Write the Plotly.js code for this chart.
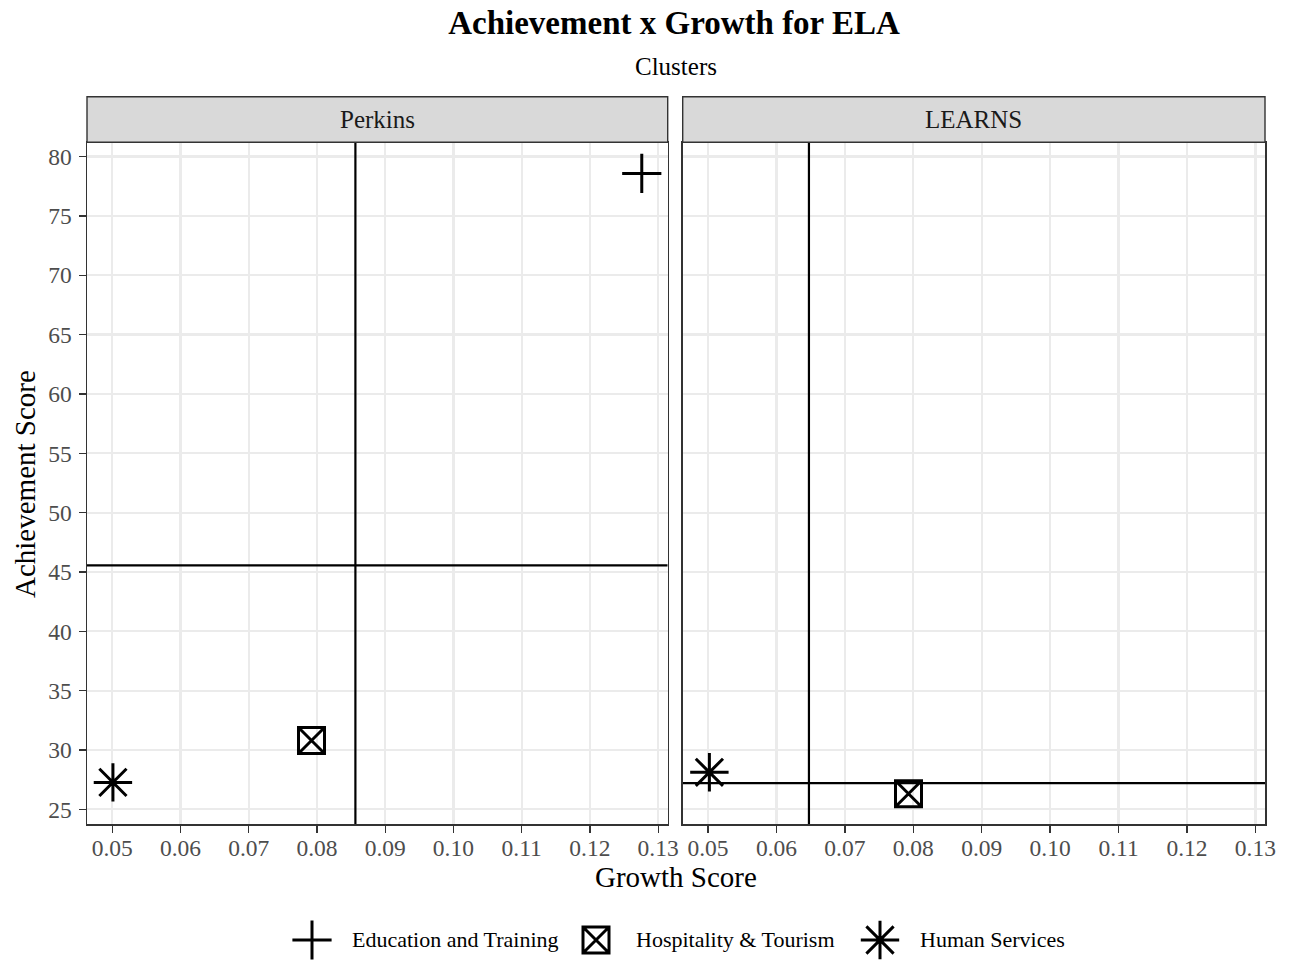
<!DOCTYPE html>
<html><head><meta charset="utf-8">
<script src="https://cdn.plot.ly/plotly-3.0.1.min.js"></script>
<style>body{margin:0;background:#fff}#chart{width:1292px;height:963px}</style>
</head><body><div id="chart"></div>
<script>
// ---- data ----
const categories = ['Education and Training', 'Hospitality & Tourism', 'Human Services'];
const facets = ['Perkins', 'LEARNS'];
const perkinsGrowth = [0.1276, 0.0792, 0.0501];
const perkinsAchievement = [78.58, 30.80, 27.27];
const learnsGrowth = [null, 0.0793, 0.0502];
const learnsAchievement = [null, 26.31, 28.12];
const xTickVals = [0.05, 0.06, 0.07, 0.08, 0.09, 0.10, 0.11, 0.12, 0.13];
const yTickVals = [25, 30, 35, 40, 45, 50, 55, 60, 65, 70, 75, 80];

// ---- styling ----
const W = 1292, H = 963;
const symbols = ['cross-thin-open', 'square-x-open', 'asterisk-open'];
const sizes = [28, 26, 32];
const serif = 'Liberation Serif, Times New Roman, serif';
const px = v => v / W, py = v => 1 - v / H;

const mean = a => { const v = a.filter(d => d !== null); return v.reduce((s, d) => s + d, 0) / v.length; };

const facetData = [
  {g: perkinsGrowth, a: perkinsAchievement, xa: 'x', ya: 'y'},
  {g: learnsGrowth, a: learnsAchievement, xa: 'x2', ya: 'y2'}
];

const xDomains = [[px(87), px(667.7)], [px(682.7), px(1265)]];
const yDomain = [py(824.3), py(142.3)];
const tickfont = {family: serif, size: 23.5, color: '#4D4D4D'};
const xRange = [0.0463, 0.1314];
const yRange = [23.74, 81.2];

const markerStyle = i => ({symbol: symbols[i], size: sizes[i], color: '#000', line: {color: '#000', width: 3}});

const traces = [];
// mean reference lines (drawn as traces so they sit under the markers)
facetData.forEach(f => {
  const mx = mean(f.g), my = mean(f.a);
  traces.push({type: 'scatter', mode: 'lines', x: [mx, mx], y: yRange, xaxis: f.xa, yaxis: f.ya,
    line: {color: '#000', width: 2.2}, hoverinfo: 'skip', showlegend: false});
  traces.push({type: 'scatter', mode: 'lines', x: xRange, y: [my, my], xaxis: f.xa, yaxis: f.ya,
    line: {color: '#000', width: 2.2}, hoverinfo: 'skip', showlegend: false});
});
facetData.forEach(f => {
  categories.forEach((c, i) => {
    if (f.g[i] === null) return;
    traces.push({
      type: 'scatter', mode: 'markers', name: c,
      x: [f.g[i]], y: [f.a[i]], xaxis: f.xa, yaxis: f.ya,
      marker: markerStyle(i), showlegend: false, cliponaxis: false
    });
  });
});
// custom legend keys (one per category, placed by category index)
categories.forEach((c, i) => {
  traces.push({
    type: 'scatter', mode: 'markers', name: c, x: [i], y: [0],
    xaxis: 'x3', yaxis: 'y3', hoverinfo: 'skip', showlegend: false, cliponaxis: false,
    marker: markerStyle(i)
  });
});

function xAxis(dom, anchor) {
  return {domain: dom, anchor: anchor, range: xRange, tickvals: xTickVals,
    ticktext: xTickVals.map(v => v.toFixed(2)), showgrid: true, gridcolor: '#EBEBEB', gridwidth: 2.2,
    ticks: 'outside', ticklen: 7, tickwidth: 1.3, tickcolor: '#333333', showline: true, mirror: true,
    linecolor: '#333333', linewidth: 1.5, zeroline: false, tickfont: tickfont, ticklabelstandoff: -5, fixedrange: true};
}
function yAxis(anchor, labels) {
  return {domain: yDomain, anchor: anchor, range: yRange, tickvals: yTickVals,
    showgrid: true, gridcolor: '#EBEBEB', gridwidth: 2.2,
    ticks: labels ? 'outside' : '', ticklen: 7, tickwidth: 1.3, tickcolor: '#333333', showline: true, mirror: true,
    linecolor: '#333333', linewidth: 1.5, zeroline: false, tickfont: tickfont, showticklabels: labels,
    ticklabelstandoff: 2, fixedrange: true};
}

const shapes = [];
const annotations = [];
facets.forEach((name, k) => {
  shapes.push({type: 'rect', xref: 'paper', yref: 'paper', x0: xDomains[k][0], x1: xDomains[k][1],
    y0: py(142.3), y1: py(96.7), fillcolor: '#D9D9D9', line: {color: '#333333', width: 1.4}});
  annotations.push({text: name, xref: 'paper', yref: 'paper', x: (xDomains[k][0] + xDomains[k][1]) / 2,
    y: py(119.5), xanchor: 'center', yanchor: 'middle', showarrow: false,
    font: {family: serif, size: 25, color: '#1A1A1A'}});
});

annotations.push({text: 'Clusters', xref: 'paper', yref: 'paper', x: px(676), y: py(66), xanchor: 'center',
  yanchor: 'middle', showarrow: false, font: {family: serif, size: 25, color: '#000'}});
annotations.push({text: 'Growth Score', xref: 'paper', yref: 'paper', x: px(676), y: py(877), xanchor: 'center',
  yanchor: 'middle', showarrow: false, font: {family: serif, size: 29, color: '#000'}});
annotations.push({text: 'Achievement Score', xref: 'paper', yref: 'paper', x: px(25), y: py(484), xanchor: 'center',
  yanchor: 'middle', textangle: -90, showarrow: false, font: {family: serif, size: 29, color: '#000'}});
categories.forEach((c, i) => {
  annotations.push({text: c, xref: 'x3', yref: 'y3', x: i, y: 0, xanchor: 'left', yanchor: 'middle',
    xshift: 38, showarrow: false, font: {family: serif, size: 22, color: '#000'}});
});

const layout = {
  width: W, height: H, margin: {l: 0, r: 0, t: 0, b: 0}, paper_bgcolor: '#fff', plot_bgcolor: 'rgba(0,0,0,0)',
  showlegend: false, font: {family: serif},
  title: {text: 'Achievement x Growth for ELA', xref: 'paper', yref: 'paper', x: px(674), xanchor: 'center',
    y: py(22), yanchor: 'middle', font: {family: serif, size: 33, weight: 'bold', color: '#000'}},
  xaxis: xAxis(xDomains[0], 'y'),
  xaxis2: xAxis(xDomains[1], 'y2'),
  yaxis: yAxis('x', true),
  yaxis2: yAxis('x2', false),
  xaxis3: {domain: [0, 1], anchor: 'y3', range: [-312 / 284, 980 / 284], visible: false, fixedrange: true},
  yaxis3: {domain: [0, 2 * py(940)], anchor: 'x3', range: [-1, 1], visible: false, fixedrange: true},
  shapes: shapes, annotations: annotations
};

Plotly.newPlot('chart', traces, layout, {displayModeBar: false, staticPlot: true});
</script>
</body></html>
